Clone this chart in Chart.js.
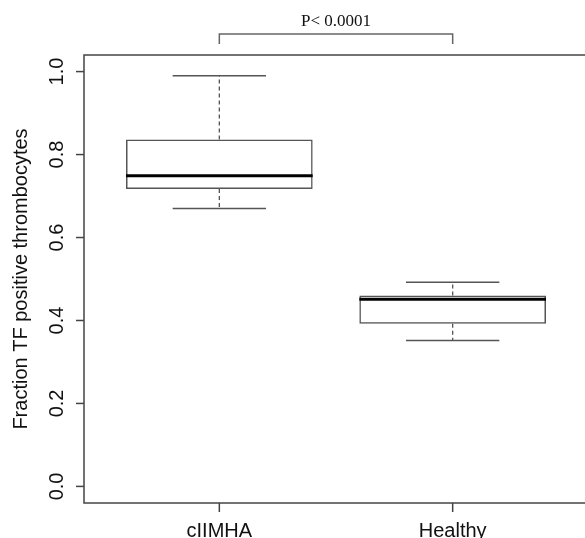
<!DOCTYPE html>
<html>
<head>
<meta charset="utf-8">
<script src="https://cdn.jsdelivr.net/npm/chart.js@4"></script>
<style>
  html, body { margin: 0; padding: 0; background: #fff; overflow: hidden; }
</style>
</head>
<body>
<canvas id="chart" width="590" height="538"></canvas>
<script>
// box plot values
const groups = ['cIIMHA', 'Healthy']
const whiskerLow = [0.67, 0.352]
const q1 = [0.717, 0.392]
const median = [0.749, 0.451]
const q3 = [0.836, 0.46]
const whiskerHigh = [0.99, 0.492]
const yTicks = [0, 0.2, 0.4, 0.6, 0.8, 1.0]
const yTitle = 'Fraction TF positive thrombocytes'
const pLabel = 'P< 0.0001'

const LINE = '#555'
const TEXT = '#111'

const boxPlot = {
  id: 'boxPlot',
  afterDatasetsDraw(chart) {
    const { ctx, chartArea: a, scales: { x, y } } = chart
    ctx.save()

    groups.forEach((g, i) => {
      const cx = x.getPixelForValue(i + 1)
      const capL = x.getPixelForValue(i + 1 - 0.2)
      const capR = x.getPixelForValue(i + 1 + 0.2)
      const boxL = x.getPixelForValue(i + 1 - 0.4)
      const boxR = x.getPixelForValue(i + 1 + 0.4)

      // whiskers
      ctx.strokeStyle = LINE
      ctx.lineWidth = 1.3
      ctx.setLineDash([4, 3])
      ctx.beginPath()
      ctx.moveTo(cx, y.getPixelForValue(q3[i]))
      ctx.lineTo(cx, y.getPixelForValue(whiskerHigh[i]))
      ctx.moveTo(cx, y.getPixelForValue(q1[i]))
      ctx.lineTo(cx, y.getPixelForValue(whiskerLow[i]))
      ctx.stroke()
      ctx.setLineDash([])

      // caps
      ctx.lineWidth = 1.5
      ctx.beginPath()
      ctx.moveTo(capL, y.getPixelForValue(whiskerHigh[i]))
      ctx.lineTo(capR, y.getPixelForValue(whiskerHigh[i]))
      ctx.moveTo(capL, y.getPixelForValue(whiskerLow[i]))
      ctx.lineTo(capR, y.getPixelForValue(whiskerLow[i]))
      ctx.stroke()

      // median
      ctx.strokeStyle = '#000'
      ctx.lineWidth = 3
      ctx.beginPath()
      ctx.moveTo(boxL, y.getPixelForValue(median[i]))
      ctx.lineTo(boxR, y.getPixelForValue(median[i]))
      ctx.stroke()
    })

    // frame
    ctx.strokeStyle = '#444'
    ctx.lineWidth = 1.5
    ctx.strokeRect(a.left, a.top, a.right - a.left, a.bottom - a.top)

    // y ticks + labels
    ctx.fillStyle = TEXT
    ctx.font = '20px "Liberation Sans", Arial, sans-serif'
    yTicks.forEach(v => {
      const py = y.getPixelForValue(v)
      ctx.beginPath()
      ctx.moveTo(a.left, py)
      ctx.lineTo(a.left - 8, py)
      ctx.stroke()
      ctx.save()
      ctx.translate(63, py)
      ctx.rotate(-Math.PI / 2)
      ctx.textAlign = 'center'
      ctx.textBaseline = 'alphabetic'
      ctx.fillText(v.toFixed(1), 0, 0)
      ctx.restore()
    })

    // x ticks + labels
    groups.forEach((g, i) => {
      const px = x.getPixelForValue(i + 1)
      ctx.beginPath()
      ctx.moveTo(px, a.bottom)
      ctx.lineTo(px, a.bottom + 9)
      ctx.stroke()
      ctx.textAlign = 'center'
      ctx.textBaseline = 'alphabetic'
      ctx.fillText(g, px, 537)
    })

    // y title
    ctx.save()
    ctx.translate(27, (a.top + a.bottom) / 2)
    ctx.rotate(-Math.PI / 2)
    ctx.textAlign = 'center'
    ctx.fillText(yTitle, 0, 0)
    ctx.restore()

    // significance bracket
    const b1 = x.getPixelForValue(1)
    const b2 = x.getPixelForValue(2)
    ctx.strokeStyle = '#666'
    ctx.lineWidth = 1.5
    ctx.beginPath()
    ctx.moveTo(b1, 44)
    ctx.lineTo(b1, 34)
    ctx.lineTo(b2, 34)
    ctx.lineTo(b2, 44)
    ctx.stroke()
    ctx.font = '17px "Liberation Serif", "Times New Roman", serif'
    ctx.textAlign = 'center'
    ctx.fillText(pLabel, (b1 + b2) / 2, 26)

    ctx.restore()
  }
}

new Chart(document.getElementById('chart'), {
  type: 'bar',
  data: {
    datasets: [{
      data: groups.map((g, i) => ({ x: i + 1, y: [q1[i], q3[i]] })),
      backgroundColor: 'rgba(0,0,0,0)',
      borderColor: LINE,
      borderWidth: 1.5,
      borderSkipped: false,
      barPercentage: 0.8,
      categoryPercentage: 1,
    }],
  },
  options: {
    responsive: false,
    animation: false,
    layout: { padding: { left: 84, top: 55, right: 2, bottom: 35 } },
    scales: {
      x: {
        type: 'linear', min: 0.42, max: 2.58, offset: false, display: false,
        // one tick per group so the bar width follows the group spacing
        afterBuildTicks: scale => { scale.ticks = groups.map((g, i) => ({ value: i + 1 })) },
      },
      y: { min: -0.04, max: 1.04, display: false },
    },
    plugins: {
      legend: { display: false },
      tooltip: { enabled: false },
    },
  },
  plugins: [boxPlot],
})
</script>
</body>
</html>
